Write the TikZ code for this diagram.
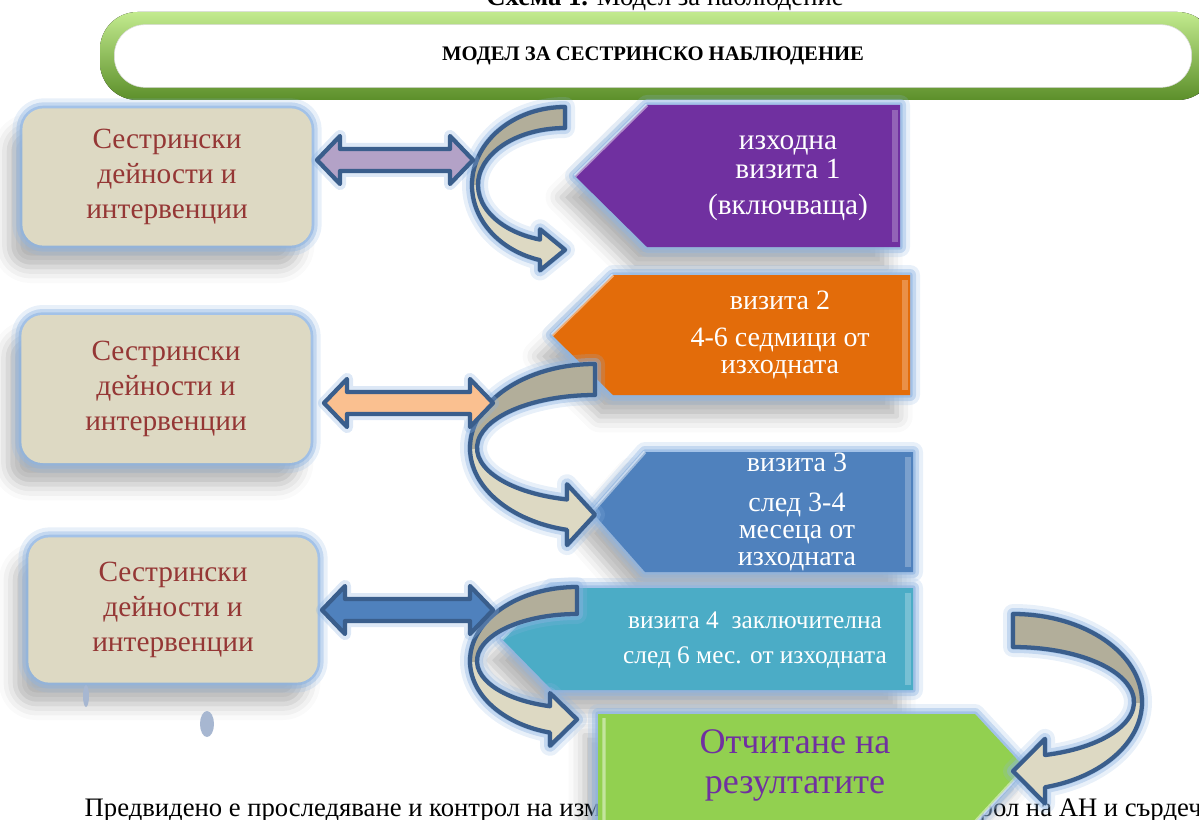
\documentclass[tikz,border=0pt]{standalone}
\usepackage{fontspec}
\setmainfont{Liberation Serif}
\usetikzlibrary{calc, shadows.blur}

\definecolor{titlelight}{HTML}{C2EA8E}
\definecolor{titledark}{HTML}{5C8F2A}
\definecolor{tanlight}{HTML}{DDD9C3}
\definecolor{tandark}{HTML}{B2AE9A}
\definecolor{carered}{HTML}{953735}
\definecolor{edgeblue}{HTML}{3A5E8C}
\definecolor{glowblue}{HTML}{8DB4E2}
\definecolor{vpurple}{HTML}{7030A0}
\definecolor{vorange}{HTML}{E36C0A}
\definecolor{vblue}{HTML}{4F81BD}
\definecolor{vteal}{HTML}{4BACC6}
\definecolor{vgreen}{HTML}{92D050}
\definecolor{lilac}{HTML}{B3A2C7}
\definecolor{peach}{HTML}{FAC090}
\definecolor{dotblue}{HTML}{A7B7D1}

\newcommand{\bendarrow}[8]{%
  \begin{scope}[shift={(#1,#2)}, xscale=#8]
    \pgfmathsetmacro\ao{acos(-#7/#3)}
    \pgfmathsetmacro\ai{acos(-#7/#5)}
    \pgfmathsetmacro\aoe{\ao-360}
    \pgfmathsetmacro\aie{\ai-360}
    \pgfmathsetmacro\yo{#4*sin(\ao)}
    \pgfmathsetmacro\yi{#6*sin(\ai)}
    \pgfmathsetmacro\hh{(\yo-\yi)/2}
    \pgfmathsetmacro\ym{(\yo+\yi)/2}
    \def\bendpath{(0,-#4) arc[start angle=-90, end angle=\aoe, x radius=#3, y radius=#4]
      -- (-#7,\yo+\hh) -- (0,\ym) -- (-#7,\yi-\hh) -- (-#7,\yi)
      arc[start angle=\aie, end angle=-90, x radius=#5, y radius=#6] -- cycle}
    \path[glow, fill=tanlight] \bendpath;
    \begin{scope}
      \clip (-200,-200) rectangle (200,0);
      \fill[tandark] \bendpath;
    \end{scope}
    \draw[bendline] \bendpath;
  \end{scope}}

\newcommand{\dblarrow}[3]{%
  \filldraw[barrow, fill=#3] (#1) -- ++(23,-24) -- ++(0,13) -- ($(#2)+(-23,-11)$) -- ++(0,-13)
    -- (#2) -- ++(-23,24) -- ++(0,-13) -- ($(#1)+(23,11)$) -- ++(0,13) -- cycle;}

\begin{document}
\begin{tikzpicture}[x=0.75pt, y=-0.75pt,
    glow/.style={preaction={draw=glowblue, line width=15, opacity=.2, line join=round},
      preaction={draw=glowblue, line width=9, opacity=.4, line join=round},
      preaction={draw=glowblue, line width=4, opacity=.6, line join=round}},
    soft/.style={blur shadow={shadow xshift=-10pt, shadow yshift=-16pt, shadow blur radius=12pt, shadow opacity=30}},
    carebox/.style={soft, glow, fill=tanlight, rounded corners=16pt, minimum width=217pt,
      align=center, text=carered, font=\fontsize{22}{26}\selectfont},
    visit/.style={soft, glow},
    bevel/.style={draw=white, line width=2.5, opacity=.45},
    strip/.style={draw=white, line width=5, opacity=.25},
    vtext/.style={text=white, align=center, font=\fontsize{21}{22}\selectfont},
    bendline/.style={draw=edgeblue, line width=3.2, line join=round},
    barrow/.style={draw=edgeblue, line width=3.2, line join=round,
      preaction={draw=glowblue, line width=9, opacity=.3, line join=round}},
    plain/.style={font=\fontsize{20}{22}\selectfont, anchor=base}]

  \useasboundingbox (0,0) rectangle (1199,820);
  \clip (0,0) rectangle (1199,820);

  \node[plain] (cap) at (665,6) {\textbf{Схема 1.} Модел за наблюдение};

  \fill[top color=titlelight, bottom color=titledark, rounded corners=28pt] (100,12) rectangle (1215,100);
  \node[fill=white, draw=black!15, rounded corners=23pt, minimum width=808pt, minimum height=47pt,
    font=\bfseries\fontsize{15.5}{18}\selectfont] (title) at (653,56) {МОДЕЛ ЗА СЕСТРИНСКО НАБЛЮДЕНИЕ};

  \node[carebox, minimum height=103pt] (care1) at (167,177) {Сестрински\\дейности и\\интервенции};
  \node[carebox, minimum height=111pt] (care2) at (166,389) {Сестрински\\дейности и\\интервенции};
  \node[carebox, minimum height=109pt] (care3) at (173,610) {Сестрински\\дейности и\\интервенции};

  \fill[dotblue] (86,696) ellipse [x radius=3, y radius=11];
  \fill[dotblue] (207,724) ellipse [x radius=7, y radius=13];

  \node[plain, anchor=base west] (low1) at (80,816) {Предвидено е проследяване и контрол на изм};
  \node[plain, anchor=base west] (low2) at (975,816) {рол на АН и сърдеч};

  \fill[visit, fill=vpurple] (647,105) -- (900,105) -- (900,247) -- (647,247) -- (575,176) -- cycle;
  \draw[bevel] (575,176) -- (647,105);
  \draw[strip] (895,110) -- (895,242);
  \fill[visit, fill=vorange] (613,275) -- (910,275) -- (910,395) -- (613,395) -- (552,335) -- cycle;
  \draw[bevel] (552,335) -- (613,275);
  \draw[strip] (905,280) -- (905,390);
  \fill[visit, fill=vblue] (645,452) -- (913,452) -- (913,572) -- (645,572) -- (592,512) -- cycle;
  \draw[bevel] (592,512) -- (645,452);
  \draw[strip] (908,457) -- (908,567);
  \fill[visit, fill=vteal] (552,588) -- (913,588) -- (913,690) -- (552,690) -- (502,639) -- cycle;
  \draw[bevel] (502,639) -- (552,588);
  \draw[strip] (908,593) -- (908,685);
  \fill[visit, fill=vgreen] (598,714) -- (975,714) -- (1025,768) -- (975,822) -- (598,822) -- cycle;
  \draw[bevel] (604,718) -- (604,822) (975,822) -- (1025,768);

  \node[vtext, font=\fontsize{22}{22}\selectfont] (v1) at (788,178) {изходна\\визита 1\\[5pt](включваща)};
  \node[vtext, font=\fontsize{21}{20}\selectfont] (v2) at (780,335) {визита 2\\[8pt]4-6 седмици от\\изходната};
  \node[vtext, font=\fontsize{21}{20}\selectfont] (v3) at (797,512) {визита 3\\[10pt]след 3-4\\месеца от\\изходната};
  \node[vtext, font=\fontsize{19}{26}\selectfont] (v4) at (755,640) {визита 4\ \ заключителна\\след 6 мес. от изходната};
  \node[text=vpurple, align=center, font=\fontsize{27}{30}\selectfont] (res) at (795,765) {Отчитане на\\резултатите};

  \bendarrow{565}{185}{93}{78}{87}{57}{25}{1}
  \bendarrow{595}{448}{125}{84}{118}{53}{28}{1}
  \bendarrow{577}{661}{107}{74}{100}{47}{27}{1}
  \bendarrow{1013}{702}{129}{88}{121}{55}{32}{-1}

  \coordinate (l1) at (317,160);
  \coordinate (r1) at (473,160);
  \coordinate (l2) at (324,403);
  \coordinate (r2) at (493,403);
  \coordinate (l3) at (322,610);
  \coordinate (r3) at (493,610);
  \dblarrow{l1}{r1}{lilac}
  \dblarrow{l2}{r2}{peach}
  \dblarrow{l3}{r3}{vblue}
\end{tikzpicture}
\end{document}
